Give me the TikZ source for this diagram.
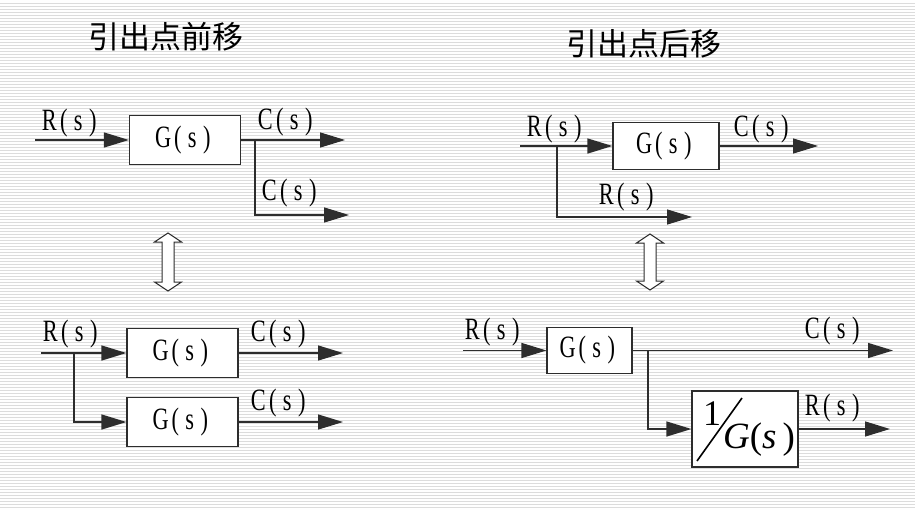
\documentclass[tikz,border=0pt]{standalone}
\usepackage{fontspec}
\usetikzlibrary{arrows.meta}
\newfontfamily\labfont[FakeStretch=0.72]{Liberation Serif}
\newfontfamily\cjkfont{Noto Sans CJK SC}
\newfontfamily\mathlikefont{Liberation Serif}
\definecolor{stripe}{RGB}{220,220,220}
\definecolor{ln}{RGB}{45,45,45}
\newcommand\cell[1]{\makebox[14.5pt]{#1}}
\newcommand\lbl[2]{\cell{#1}\cell{(}\cell{#2}\cell{)}}
\tikzset{
  every node/.style={inner sep=0pt},
  lab/.style={font=\fontsize{31}{31}\labfont},
  blk/.style={draw=ln, line width=1.2pt, fill=white, font=\fontsize{31}{31}\labfont},
  sig/.style={draw=ln, line width=1.3pt, -{Triangle[length=25pt,width=15pt]}},
  wire/.style={draw=ln, line width=1.3pt},
  title/.style={font=\fontsize{31}{31}\cjkfont},
  dbl/.style={draw=ln, line width=1pt, fill=white}
}
\begin{document}
\begin{tikzpicture}[x=1pt,y=-1pt]
\useasboundingbox (0,0) rectangle (915,509);
\fill[white] (0,0) rectangle (915,509);
\foreach \k in {1,...,169} {\draw[stripe, line width=1pt] (0,3*\k) -- (915,3*\k);}

% titles
\node[title] (t1) at (166,37) {引出点前移};
\node[title] (t2) at (644,44) {引出点后移};

% ---------- top-left ----------
\node[blk, minimum width=111pt, minimum height=49pt] (g1) at (185,140) {\lbl{G}{s}};
\coordinate (in1) at (35,140);
\coordinate (b1) at (255,140);
\coordinate (b1d) at (255,215);
\coordinate (o1) at (345,140);
\coordinate (o2) at (349,215);
\draw[sig] (in1) -- (g1.west);
\draw[wire] (g1.east) -- (b1);
\draw[sig] (b1) -- (o1);
\draw[sig] (b1) -- (b1d) -- (o2);
\node[lab] (l1) at (71,123) {\lbl{R}{s}};
\node[lab] (l2) at (287,122) {\lbl{C}{s}};
\node[lab] (l3) at (291,193) {\lbl{C}{s}};

% ---------- bottom-left ----------
\node[blk, minimum width=111pt, minimum height=49pt] (g2) at (182.5,353) {\lbl{G}{s}};
\node[blk, minimum width=111pt, minimum height=49pt] (g3) at (182.5,422) {\lbl{G}{s}};
\coordinate (in2) at (41,353);
\coordinate (b2) at (74,353);
\coordinate (b2d) at (74,422);
\coordinate (o3) at (343,353);
\coordinate (o4) at (343,422);
\draw[wire] (in2) -- (b2);
\draw[sig] (b2) -- (g2.west);
\draw[sig] (b2) -- (b2d) -- (g3.west);
\draw[sig] (g2.east) -- (o3);
\draw[sig] (g3.east) -- (o4);
\node[lab] (l4) at (72,334) {\lbl{R}{s}};
\node[lab] (l5) at (280,334) {\lbl{C}{s}};
\node[lab] (l6) at (280,403) {\lbl{C}{s}};

% ---------- top-right ----------
\node[blk, minimum width=106pt, minimum height=47pt] (g4) at (666,146) {\lbl{G}{s}};
\coordinate (in3) at (520,146);
\coordinate (b3) at (557,146);
\coordinate (b3d) at (557,217);
\coordinate (o5) at (818,146);
\coordinate (o6) at (692,217);
\draw[wire] (in3) -- (b3);
\draw[sig] (b3) -- (g4.west);
\draw[sig] (g4.east) -- (o5);
\draw[sig] (b3) -- (b3d) -- (o6);
\node[lab] (l7) at (556,129) {\lbl{R}{s}};
\node[lab] (l8) at (763,129) {\lbl{C}{s}};
\node[lab] (l9) at (628,197) {\lbl{R}{s}};

% ---------- bottom-right ----------
\node[blk, minimum width=85pt, minimum height=46pt] (g5) at (589.5,350.5) {\lbl{G}{s}};
\node[blk, minimum width=106pt, minimum height=76pt] (g6) at (745,429) {};
\coordinate (in4) at (463,350.5);
\coordinate (b4) at (648,350.5);
\coordinate (b4d) at (648,429);
\coordinate (o7) at (893,350.5);
\coordinate (o8) at (890,429);
\draw[sig] (in4) -- (g5.west);
\draw[wire] (g5.east) -- (b4);
\draw[sig] (b4) -- (o7);
\draw[sig] (b4) -- (b4d) -- (g6.west);
\draw[sig] (g6.east) -- (o8);
\node[lab] (l10) at (494,332) {\lbl{R}{s}};
\node[lab] (l11) at (834,331) {\lbl{C}{s}};
\node[lab] (l12) at (834,408) {\lbl{R}{s}};
% 1/G(s)
\node[font=\fontsize{36}{36}\mathlikefont] (one) at (712,414) {1};
\coordinate (sl1) at (697,461);
\coordinate (sl2) at (742,398);
\draw[black, line width=1.6pt] (sl1) -- (sl2);
\node[font=\fontsize{37}{37}\mathlikefont] (gs) at (759,440) {\textit{G}(\textit{s}\,)};

% ---------- double arrows ----------
\foreach \cx/\t/\b in {168/233/291, 650/234/290} {
  \draw[dbl] (\cx,\t) -- (\cx+13.5,\t+9) -- (\cx+6,\t+9) -- (\cx+6,\b-9) -- (\cx+13.5,\b-9)
    -- (\cx,\b) -- (\cx-13.5,\b-9) -- (\cx-6,\b-9) -- (\cx-6,\t+9) -- (\cx-13.5,\t+9) -- cycle;
}
\end{tikzpicture}
\end{document}
